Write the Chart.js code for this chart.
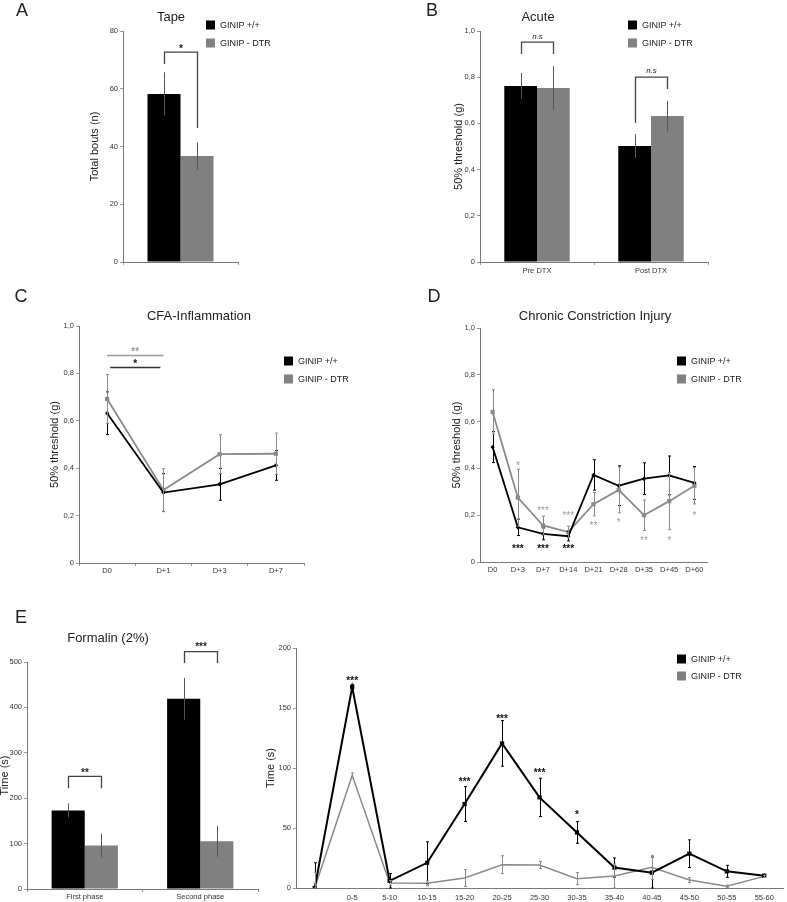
<!DOCTYPE html>
<html>
<head>
<meta charset="utf-8">
<title>GINIP behaviour panels</title>
<script src="https://cdn.jsdelivr.net/npm/chart.js@4.4.1/dist/chart.umd.min.js"></script>
<style>
    html, body { margin: 0; padding: 0; background: #ffffff; }
    #page { position: relative; width: 787px; height: 902px; overflow: hidden; font-family: 'Liberation Sans', Arial, sans-serif; color: #222; }
    #page canvas { position: absolute; }
    .txt { position: absolute; white-space: nowrap; line-height: 1; }
    .center { transform: translate(-50%, -50%); }
    .left { transform: translateY(-50%); }
    .swatch { position: absolute; width: 9px; height: 9px; transform: translateY(-50%); }
</style>
</head>
<body>
<div id="page"></div>
<script>
// ---------- data ----------
const groups = ['GINIP +/+', 'GINIP - DTR'];

// A - tape test
const tapeCategory = [''];
const tapeWt = [58.2];
const tapeWtErr = [7.5];
const tapeDtr = [36.7];
const tapeDtrErr = [4.7];

// B - acute
const acuteLabels = ['Pre DTX', 'Post DTX'];
const acuteWt = [0.762, 0.502];
const acuteWtErr = [0.056, 0.052];
const acuteDtr = [0.753, 0.632];
const acuteDtrErr = [0.095, 0.066];

// C - CFA inflammation
const cfaLabels = ['D0', 'D+1', 'D+3', 'D+7'];
const cfaWt = [0.632, 0.297, 0.332, 0.412];
const cfaWtErr = [0.09, 0.08, 0.067, 0.063];
const cfaDtr = [0.692, 0.308, 0.459, 0.461];
const cfaDtrErr = [0.103, 0.09, 0.082, 0.087];

// D - chronic constriction injury
const cciLabels = ['D0', 'D+3', 'D+7', 'D+14', 'D+21', 'D+28', 'D+35', 'D+45', 'D+60'];
const cciWt = [0.491, 0.148, 0.12, 0.11, 0.372, 0.326, 0.356, 0.37, 0.338];
const cciWtErr = [0.066, 0.035, 0.025, 0.02, 0.065, 0.085, 0.068, 0.083, 0.07];
const cciDtr = [0.641, 0.275, 0.156, 0.128, 0.247, 0.308, 0.2, 0.26, 0.326];
const cciDtrErr = [0.095, 0.122, 0.04, 0.025, 0.05, 0.098, 0.065, 0.122, 0.078];
const cciStarsWt = ['', '***', '***', '***', '', '', '', '', ''];
const cciStarsWtAt = [0, 0.067, 0.067, 0.067, 0, 0, 0, 0, 0];
const cciStarsDtr = ['', '*', '***', '***', '**', '*', '**', '*', '*'];
const cciStarsDtrAt = [0, 0.42, 0.23, 0.21, 0.165, 0.18, 0.10, 0.10, 0.21];

// E - formalin, phases
const phaseLabels = ['First phase', 'Second phase'];
const phaseWt = [173, 419];
const phaseWtErr = [15.6, 46];
const phaseDtr = [96, 105];
const phaseDtrErr = [26, 34];

// E - formalin, time course
const timeLabels = ['', '0-5', '5-10', '10-15', '15-20', '20-25', '25-30', '30-35', '35-40', '40-45', '45-50', '50-55', '55-60'];
const timeWt = [0, 167.5, 6, 21, 70, 120.5, 75.5, 46.3, 17, 12.8, 28.6, 13.9, 10.3];
const timeWtErr = [21, 2, 6, 17.5, 14.5, 19, 16, 9, 8, 13, 11.5, 5, 1];
const timeDtr = [0, 93.9, 4.2, 3.9, 8.3, 19.4, 19.2, 7.8, 10, 17.2, 6.6, 1.4, 9.7];
const timeDtrErr = [13, 2, 2, 2, 7, 7.5, 3, 5, 10, 10, 2, 1, 1];
const timeStars = ['', '***', '', '', '***', '***', '***', '*', '', '', '', '', ''];
const timeStarsAt = [0, 174.4, 0, 0, 90.3, 143, 97.8, 63.3, 0, 0, 0, 0, 0];

// ---------- styles ----------
const FONT = "'Liberation Sans', Arial, sans-serif";
const BLACK = '#000000';
const BAR_GREY = '#808080';
const LINE_GREY = '#8a8a8a';
const page = document.getElementById('page');

// Helper: comma decimals like the original figure
function commaTick(value) {
    return value === 0 ? '0' : value.toFixed(1).replace('.', ',');
}

function yAxis(min, max, step, title, width, callback, titleShift) {
    const ticks = { stepSize: step, color: '#333', font: { family: FONT, size: 7.5 }, padding: 2 };
    if (callback) ticks.callback = callback;
    return {
        min: min,
        max: max,
        ticks: ticks,
        grid: { drawOnChartArea: false, tickLength: 3, color: '#999' },
        border: { color: '#777', width: 1 },
        title: {
            display: true, text: title, color: '#222',
            padding: { top: titleShift || 0, bottom: 0 },
            font: { family: FONT, size: 11 }
        },
        afterFit: scale => { scale.width = width; }
    };
}

function xAxis(height, drawTicks, padding) {
    return {
        offset: true,
        ticks: { color: '#333', font: { family: FONT, size: 7.5 }, padding: padding, maxRotation: 0, autoSkip: false },
        grid: { drawOnChartArea: false, drawTicks: drawTicks, tickLength: 3, offset: true, color: '#999' },
        border: { color: '#777', width: 1 },
        afterFit: scale => { scale.height = height; }
    };
}

// Padding so the plot area lands where it is in the figure
function framePadding(box, area, yWidth, xHeight) {
    return {
        left: area.l - box.x - yWidth,
        top: area.t - box.y,
        right: box.x + box.w - area.r,
        bottom: box.y + box.h - area.b - xHeight
    };
}

function makeCanvas(box) {
    const canvas = document.createElement('canvas');
    canvas.width = box.w;
    canvas.height = box.h;
    canvas.style.left = box.x + 'px';
    canvas.style.top = box.y + 'px';
    canvas.style.width = box.w + 'px';
    canvas.style.height = box.h + 'px';
    page.appendChild(canvas);
    return canvas;
}

function addText(text, x, y, size, cls) {
    const div = document.createElement('div');
    div.className = 'txt ' + cls;
    div.textContent = text;
    div.style.left = x + 'px';
    div.style.top = y + 'px';
    div.style.fontSize = size + 'px';
    page.appendChild(div);
}

function addLegend(x, y, color, label) {
    const sw = document.createElement('div');
    sw.className = 'swatch';
    sw.style.left = x + 'px';
    sw.style.top = y + 'px';
    sw.style.background = color;
    page.appendChild(sw);
    addText(label, x + 14, y, 9, 'left');
}

// Error bars plugin: reads dataset.errors
const errorBarsPlugin = {
    id: 'errorBars',
    afterDatasetsDraw(chart) {
        const ctx = chart.ctx;
        const yScale = chart.scales.y;
        chart.data.datasets.forEach((ds, di) => {
            if (!ds.errors) return;
            const meta = chart.getDatasetMeta(di);
            ctx.save();
            ctx.strokeStyle = ds.errorColor;
            ctx.lineWidth = 1;
            meta.data.forEach((el, i) => {
                const v = ds.data[i];
                const e = ds.errors[i];
                const top = yScale.getPixelForValue(v + e);
                const bottom = yScale.getPixelForValue(Math.max(v - e, yScale.min));
                const x = Math.round(el.x) + 0.5;
                ctx.beginPath();
                ctx.moveTo(x, top);
                ctx.lineTo(x, bottom);
                if (ds.errorCap) {
                    ctx.moveTo(x - ds.errorCap, top);
                    ctx.lineTo(x + ds.errorCap, top);
                    ctx.moveTo(x - ds.errorCap, bottom);
                    ctx.lineTo(x + ds.errorCap, bottom);
                }
                ctx.stroke();
            });
            ctx.restore();
        });
    }
};

function drawMarkText(ctx, text, x, y, color, size, style) {
    ctx.save();
    ctx.fillStyle = color;
    ctx.font = (style || '') + ' ' + size + 'px ' + FONT;
    ctx.textAlign = 'center';
    ctx.textBaseline = 'alphabetic';
    const lift = text.indexOf('*') >= 0 ? 0.57 : 0.27;
    ctx.fillText(text, x, y + size * lift);
    ctx.restore();
}

// Significance brackets, lines and stars
function marksPlugin(marks) {
    return {
        id: 'marks',
        afterDraw(chart) {
            const ctx = chart.ctx;
            const y = chart.scales.y;
            const px = (di, i) => chart.getDatasetMeta(di).data[i].x;
            (marks.brackets || []).forEach(b => {
                const x1 = Math.round(px(b.from[0], b.from[1])) + 0.5;
                const x2 = Math.round(px(b.to[0], b.to[1])) + 0.5;
                ctx.save();
                ctx.strokeStyle = '#444';
                ctx.lineWidth = 1.3;
                ctx.beginPath();
                ctx.moveTo(x1, y.getPixelForValue(b.left));
                ctx.lineTo(x1, y.getPixelForValue(b.top));
                ctx.lineTo(x2, y.getPixelForValue(b.top));
                ctx.lineTo(x2, y.getPixelForValue(b.right));
                ctx.stroke();
                ctx.restore();
                drawMarkText(ctx, b.text, (x1 + x2) / 2, y.getPixelForValue(b.textAt), '#222', b.size, b.style);
            });
            (marks.lines || []).forEach(l => {
                const x1 = px(0, l.from) + l.inset;
                const x2 = px(0, l.to) - l.inset;
                const yy = Math.round(y.getPixelForValue(l.at)) + 0.5;
                ctx.save();
                ctx.strokeStyle = l.color;
                ctx.lineWidth = 1.3;
                ctx.beginPath();
                ctx.moveTo(x1, yy);
                ctx.lineTo(x2, yy);
                ctx.stroke();
                ctx.restore();
                drawMarkText(ctx, l.text, (x1 + x2) / 2, y.getPixelForValue(l.textAt), l.textColor, 10, 'bold');
            });
            (marks.stars || []).forEach(s => {
                s.texts.forEach((t, i) => {
                    if (!t) return;
                    drawMarkText(ctx, t, px(0, i), y.getPixelForValue(s.at[i]), s.color, 10, s.style);
                });
            });
        }
    };
}

function barSet(label, data, errors, color) {
    return {
        label: label, data: data, errors: errors, errorColor: '#555',
        backgroundColor: color, borderWidth: 0,
        categoryPercentage: 0.574, barPercentage: 1
    };
}

function lineSet(label, data, errors, color, width, pointStyle, radius) {
    return {
        label: label, data: data, errors: errors, errorColor: color, errorCap: 1.5,
        borderColor: color, backgroundColor: color, borderWidth: width,
        pointStyle: pointStyle, pointRadius: radius, pointBackgroundColor: color,
        pointBorderColor: color, pointBorderWidth: 0, tension: 0
    };
}

function buildChart(box, area, yWidth, xHeight, type, labels, datasets, scales, marks) {
    return new Chart(makeCanvas(box), {
        type: type,
        data: { labels: labels, datasets: datasets },
        options: {
            responsive: false,
            animation: false,
            events: [],
            layout: { padding: framePadding(box, area, yWidth, xHeight) },
            plugins: { legend: { display: false }, tooltip: { enabled: false } },
            scales: scales
        },
        plugins: [errorBarsPlugin, marksPlugin(marks)]
    });
}

// ---------- panel A ----------
buildChart({ x: 0, y: 0, w: 393, h: 285 }, { l: 123, t: 31, r: 238, b: 262 }, 35, 20, 'bar', tapeCategory,
    [barSet(groups[0], tapeWt, tapeWtErr, BLACK), barSet(groups[1], tapeDtr, tapeDtrErr, BAR_GREY)],
    { x: xAxis(20, true, 1), y: yAxis(0, 80, 20, 'Total bouts (n)', 35) },
    { brackets: [{ from: [0, 0], to: [1, 0], left: 68.6, top: 72.7, right: 46.4, text: '*', textAt: 74.6, size: 10, style: 'bold' }] });

// ---------- panel B ----------
buildChart({ x: 393, y: 0, w: 394, h: 285 }, { l: 480, t: 31, r: 708, b: 262 }, 28, 20, 'bar', acuteLabels,
    [barSet(groups[0], acuteWt, acuteWtErr, BLACK), barSet(groups[1], acuteDtr, acuteDtrErr, BAR_GREY)],
    { x: xAxis(20, true, 1), y: yAxis(0, 1, 0.2, '50% threshold (g)', 28, commaTick) },
    { brackets: [
        { from: [0, 0], to: [1, 0], left: 0.90, top: 0.952, right: 0.90, text: 'n.s', textAt: 0.976, size: 8, style: 'italic' },
        { from: [0, 1], to: [1, 1], left: 0.602, top: 0.80, right: 0.749, text: 'n.s', textAt: 0.827, size: 8, style: 'italic' }
    ] });

// ---------- panel C ----------
buildChart({ x: 0, y: 285, w: 393, h: 315 }, { l: 79, t: 326, r: 304, b: 563 }, 31, 20, 'line', cfaLabels,
    [lineSet(groups[0], cfaWt, cfaWtErr, BLACK, 1.8, 'rectRot', 2.2),
     lineSet(groups[1], cfaDtr, cfaDtrErr, LINE_GREY, 1.8, 'rect', 3)],
    { x: xAxis(20, true, 0), y: yAxis(0, 1, 0.2, '50% threshold (g)', 31, commaTick) },
    { lines: [
        { from: 0, to: 1, inset: 0, at: 0.876, color: '#999', text: '**', textAt: 0.90, textColor: '#999' },
        { from: 0, to: 1, inset: 3, at: 0.826, color: '#333', text: '*', textAt: 0.85, textColor: '#111' }
    ] });

// ---------- panel D ----------
buildChart({ x: 393, y: 285, w: 394, h: 315 }, { l: 480, t: 328, r: 707, b: 562 }, 30, 20, 'line', cciLabels,
    [lineSet(groups[0], cciWt, cciWtErr, BLACK, 1.8, 'rectRot', 2.2),
     lineSet(groups[1], cciDtr, cciDtrErr, LINE_GREY, 1.8, 'rect', 3)],
    { x: xAxis(20, false, 3), y: yAxis(0, 1, 0.2, '50% threshold (g)', 30, commaTick) },
    { stars: [
        { texts: cciStarsWt, at: cciStarsWtAt, color: '#111', style: 'bold' },
        { texts: cciStarsDtr, at: cciStarsDtrAt, color: '#999', style: '' }
    ] });

// ---------- panel E, phases ----------
buildChart({ x: 0, y: 600, w: 262, h: 302 }, { l: 27, t: 662, r: 258, b: 889 }, 27, 13, 'bar', phaseLabels,
    [barSet(groups[0], phaseWt, phaseWtErr, BLACK), barSet(groups[1], phaseDtr, phaseDtrErr, BAR_GREY)],
    { x: xAxis(13, true, 0), y: yAxis(0, 500, 100, 'Time (s)', 27, null, -2) },
    { brackets: [
        { from: [0, 0], to: [1, 0], left: 222, top: 248, right: 222, text: '**', textAt: 262, size: 10, style: 'bold' },
        { from: [0, 1], to: [1, 1], left: 498, top: 523, right: 498, text: '***', textAt: 538, size: 10, style: 'bold' }
    ] });

// ---------- panel E, time course ----------
buildChart({ x: 262, y: 600, w: 525, h: 302 }, { l: 296, t: 648, r: 784, b: 888 }, 32, 14, 'line', timeLabels,
    [lineSet(groups[0], timeWt, timeWtErr, BLACK, 2, 'rect', 3),
     lineSet(groups[1], timeDtr, timeDtrErr, LINE_GREY, 1.5, 'cross', 2)],
    { x: xAxis(14, false, 5), y: yAxis(0, 200, 50, 'Time (s)', 32) },
    { stars: [{ texts: timeStars, at: timeStarsAt, color: '#111', style: 'bold' }] });

// ---------- titles, letters, legends ----------
addText('A', 22, 10, 18, 'center');
addText('B', 432, 10, 18, 'center');
addText('C', 21, 296, 18, 'center');
addText('D', 434, 296, 18, 'center');
addText('E', 21, 617, 18, 'center');

addText('Tape', 171, 16, 13, 'center');
addText('Acute', 538, 16, 13, 'center');
addText('CFA-Inflammation', 199, 315, 13, 'center');
addText('Chronic Constriction Injury', 595, 315, 13, 'center');
addText('Formalin (2%)', 108, 637, 13, 'center');

const legendSpots = [[206, 25, 43], [628, 25, 43], [284, 361, 379], [677, 361, 379], [677, 659, 676]];
legendSpots.forEach(spot => {
    addLegend(spot[0], spot[1], BLACK, groups[0]);
    addLegend(spot[0], spot[2], BAR_GREY, groups[1]);
});
</script>
</body>
</html>
